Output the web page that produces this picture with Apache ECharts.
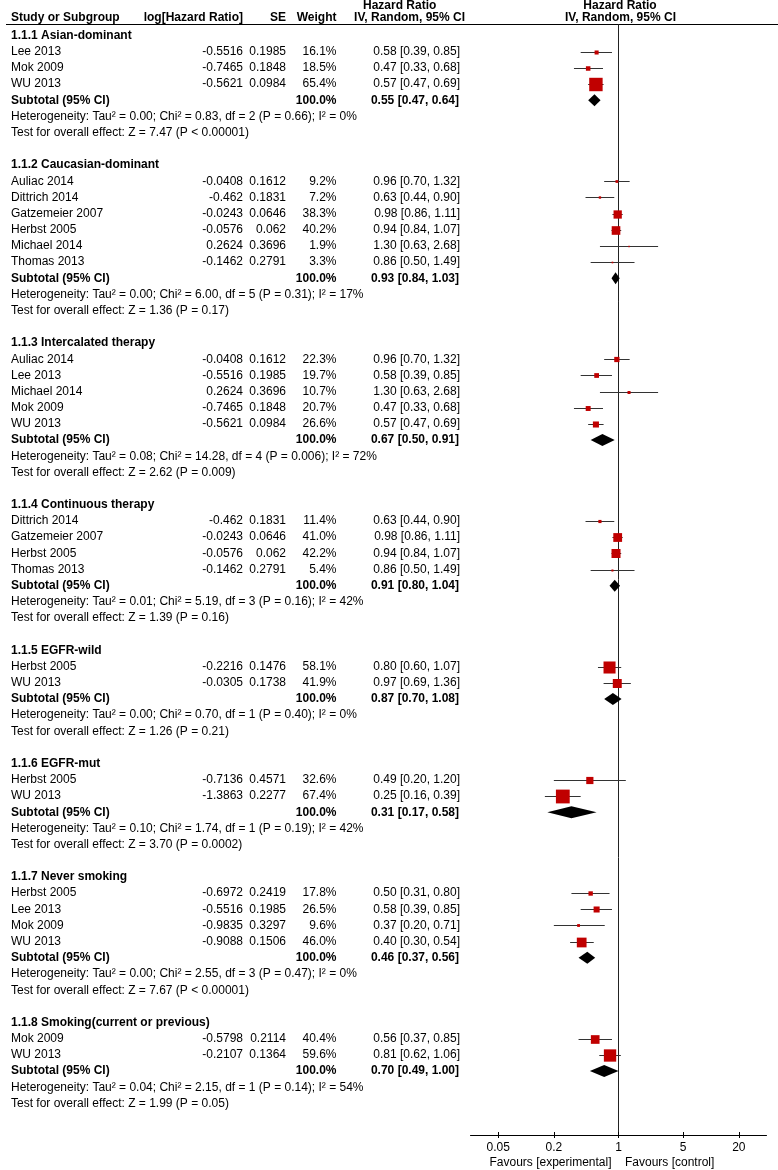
<!DOCTYPE html>
<html><head><meta charset="utf-8">
<script src="https://cdn.jsdelivr.net/npm/echarts@6/dist/echarts.min.js"></script>
<style>html,body{margin:0;padding:0;background:#fff}#c{width:778px;height:1170px}</style>
</head><body><div id="c"></div>
<script>
const groupNames = ['1.1.1 Asian-dominant','1.1.2 Caucasian-dominant','1.1.3 Intercalated therapy','1.1.4 Continuous therapy','1.1.5 EGFR-wild','1.1.6 EGFR-mut','1.1.7 Never smoking','1.1.8 Smoking(current or previous)'];
const studyGroup = [0,0,0, 1,1,1,1,1,1, 2,2,2,2,2, 3,3,3,3, 4,4, 5,5, 6,6,6,6, 7,7];
const studyNames = ['Lee 2013','Mok 2009','WU 2013', 'Auliac 2014','Dittrich 2014','Gatzemeier 2007','Herbst 2005','Michael 2014','Thomas 2013', 'Auliac 2014','Lee 2013','Michael 2014','Mok 2009','WU 2013', 'Dittrich 2014','Gatzemeier 2007','Herbst 2005','Thomas 2013', 'Herbst 2005','WU 2013', 'Herbst 2005','WU 2013', 'Herbst 2005','Lee 2013','Mok 2009','WU 2013', 'Mok 2009','WU 2013'];
const logHR = [-0.5516,-0.7465,-0.5621, -0.0408,-0.462,-0.0243,-0.0576,0.2624,-0.1462, -0.0408,-0.5516,0.2624,-0.7465,-0.5621, -0.462,-0.0243,-0.0576,-0.1462, -0.2216,-0.0305, -0.7136,-1.3863, -0.6972,-0.5516,-0.9835,-0.9088, -0.5798,-0.2107];
const seVals = [0.1985,0.1848,0.0984, 0.1612,0.1831,0.0646,0.062,0.3696,0.2791, 0.1612,0.1985,0.3696,0.1848,0.0984, 0.1831,0.0646,0.062,0.2791, 0.1476,0.1738, 0.4571,0.2277, 0.2419,0.1985,0.3297,0.1506, 0.2114,0.1364];
const weightPct = [16.1,18.5,65.4, 9.2,7.2,38.3,40.2,1.9,3.3, 22.3,19.7,10.7,20.7,26.6, 11.4,41.0,42.2,5.4, 58.1,41.9, 32.6,67.4, 17.8,26.5,9.6,46.0, 40.4,59.6];
const hrVals = [0.58,0.47,0.57, 0.96,0.63,0.98,0.94,1.30,0.86, 0.96,0.58,1.30,0.47,0.57, 0.63,0.98,0.94,0.86, 0.80,0.97, 0.49,0.25, 0.50,0.58,0.37,0.40, 0.56,0.81];
const ciLow = [0.39,0.33,0.47, 0.70,0.44,0.86,0.84,0.63,0.50, 0.70,0.39,0.63,0.33,0.47, 0.44,0.86,0.84,0.50, 0.60,0.69, 0.20,0.16, 0.31,0.39,0.20,0.30, 0.37,0.62];
const ciHigh = [0.85,0.68,0.69, 1.32,0.90,1.11,1.07,2.68,1.49, 1.32,0.85,2.68,0.68,0.69, 0.90,1.11,1.07,1.49, 1.07,1.36, 1.20,0.39, 0.80,0.85,0.71,0.54, 0.85,1.06];
const subHR = [0.55,0.93,0.67,0.91,0.87,0.31,0.46,0.70];
const subLow = [0.47,0.84,0.50,0.80,0.70,0.17,0.37,0.49];
const subHigh = [0.64,1.03,0.91,1.04,1.08,0.58,0.56,1.00];
const hetTau2 = ['0.00','0.00','0.08','0.01','0.00','0.10','0.00','0.04'];
const hetChi2 = ['0.83','6.00','14.28','5.19','0.70','1.74','2.55','2.15'];
const hetDf = [2,5,4,3,1,1,3,1];
const hetP = ['0.66','0.31','0.006','0.16','0.40','0.19','0.47','0.14'];
const hetI2 = [0,17,72,42,0,42,0,54];
const testZ = ['7.47','1.36','2.62','1.39','1.26','3.70','7.67','1.99'];
const testP = ['< 0.00001','= 0.17','= 0.009','= 0.16','= 0.21','= 0.0002','< 0.00001','= 0.05'];
const tickValues = [0.05, 0.2, 1, 5, 20];

const FONT = '"Liberation Sans", Arial, Helvetica, sans-serif';
const COL = {study: 11, logHR: 243, se: 286, weight: 336.5, hr: 460, hrBold: 459};

// Build row layout
const textRows = [], studyData = [], subData = [];
let row = 0;
groupNames.forEach((g, gi) => {
  textRows.push({r: row, items: [{x: COL.study, t: g, a: 'left', b: true}]}); row++;
  studyGroup.forEach((sg, i) => {
    if (sg !== gi) return;
    textRows.push({r: row, items: [
      {x: COL.study, t: studyNames[i], a: 'left'},
      {x: COL.logHR, t: String(logHR[i]), a: 'right'},
      {x: COL.se, t: String(seVals[i]), a: 'right'},
      {x: COL.weight, t: weightPct[i].toFixed(1) + '%', a: 'right'},
      {x: COL.hr, t: hrVals[i].toFixed(2) + ' [' + ciLow[i].toFixed(2) + ', ' + ciHigh[i].toFixed(2) + ']', a: 'right'}
    ]});
    studyData.push([Math.log10(hrVals[i]), row, Math.log10(ciLow[i]), Math.log10(ciHigh[i]), weightPct[i]]);
    row++;
  });
  textRows.push({r: row, items: [
    {x: COL.study, t: 'Subtotal (95% CI)', a: 'left', b: true},
    {x: COL.weight, t: '100.0%', a: 'right', b: true},
    {x: COL.hrBold, t: subHR[gi].toFixed(2) + ' [' + subLow[gi].toFixed(2) + ', ' + subHigh[gi].toFixed(2) + ']', a: 'right', b: true}
  ]});
  subData.push([Math.log10(subHR[gi]), row, Math.log10(subLow[gi]), Math.log10(subHigh[gi])]);
  row++;
  textRows.push({r: row, items: [{x: COL.study, a: 'left',
    t: 'Heterogeneity: Tau² = ' + hetTau2[gi] + '; Chi² = ' + hetChi2[gi] + ', df = ' + hetDf[gi] + ' (P = ' + hetP[gi] + '); I² = ' + hetI2[gi] + '%'}]});
  row++;
  textRows.push({r: row, items: [{x: COL.study, a: 'left',
    t: 'Test for overall effect: Z = ' + testZ[gi] + ' (P ' + testP[gi] + ')'}]});
  row++;
  row++; // blank
});

function txt(x, y, t, align, bold) {
  return {type: 'text', x: x, y: y, silent: true, style: {
    text: t, align: align, textAlign: align, verticalAlign: 'middle', textVerticalAlign: 'middle',
    fontSize: 12, fontFamily: FONT, fontWeight: bold ? 'bold' : 'normal', fill: '#000'}};
}

const chart = echarts.init(document.getElementById('c'), null, {renderer: 'canvas'});
const tickLog = tickValues.map(v => Math.log10(v));
const option = {
  animation: false,
  grid: {left: 470.5, right: 11.5, top: 24.5, bottom: 35, containLabel: false},
  xAxis: [{
    type: 'value', position: 'bottom', min: -1.6, max: 1.6,
    axisLine: {onZero: false, lineStyle: {color: '#000', width: 1}},
    axisTick: {show: true, length: 3, customValues: tickLog, lineStyle: {color: '#000'}},
    axisLabel: {show: true, customValues: tickLog, margin: 7, fontSize: 12, fontFamily: FONT, color: '#000',
      formatter: v => { const t = tickValues.find(k => Math.abs(Math.log10(k) - v) < 1e-6); return t === undefined ? '' : String(t); }},
    splitLine: {show: false}
  }, {
    type: 'value', position: 'bottom', min: -1.6, max: 1.6,
    axisLine: {show: false, onZero: false},
    axisTick: {show: true, inside: true, length: 3, customValues: tickLog, lineStyle: {color: '#000'}},
    axisLabel: {show: false},
    splitLine: {show: false}
  }],
  yAxis: {
    type: 'value', inverse: true, min: -0.686, max: 67.95,
    axisLine: {show: true, onZero: true, lineStyle: {color: '#222', width: 1}},
    axisTick: {show: false}, axisLabel: {show: false}, splitLine: {show: false}
  },
  series: [{
    type: 'custom', name: 'text', clip: false, silent: true,
    data: textRows.map(r => [0, r.r]),
    encode: {x: 0, y: 1},
    renderItem: (params, api) => {
      const y = api.coord([0, api.value(1)])[1];
      const rr = textRows[params.dataIndex];
      return {type: 'group', children: rr.items.map(it => txt(it.x, y, it.t, it.a, it.b))};
    }
  }, {
    type: 'custom', name: 'studies', clip: false, silent: true,
    data: studyData,
    encode: {x: [0, 2, 3], y: 1},
    renderItem: (params, api) => {
      const c = api.coord([api.value(0), api.value(1)]);
      const l = api.coord([api.value(2), api.value(1)]);
      const r = api.coord([api.value(3), api.value(1)]);
      const s = 1 + 0.19 * api.value(4);
      const ly = Math.round(c[1]) + 0.5;
      return {type: 'group', children: [
        {type: 'line', shape: {x1: l[0], y1: ly, x2: r[0], y2: ly}, style: {stroke: '#333', lineWidth: 1}},
        {type: 'rect', shape: {x: c[0] - s / 2, y: ly - s / 2, width: s, height: s}, style: {fill: '#c00000'}}
      ]};
    }
  }, {
    type: 'custom', name: 'subtotals', clip: false, silent: true,
    data: subData,
    encode: {x: [0, 2, 3], y: 1},
    renderItem: (params, api) => {
      const c = api.coord([api.value(0), api.value(1)]);
      const l = api.coord([api.value(2), api.value(1)]);
      const r = api.coord([api.value(3), api.value(1)]);
      const h = 6;
      return {type: 'polygon', shape: {points: [[l[0], c[1]], [c[0], c[1] - h], [r[0], c[1]], [c[0], c[1] + h]]},
        style: {fill: '#000'}};
    }
  }],
  graphic: [
    {type: 'line', shape: {x1: 6, y1: 24.5, x2: 778, y2: 24.5}, style: {stroke: '#000', lineWidth: 1}, silent: true},
    txt(363, 6, 'Hazard Ratio', 'left', true),
    txt(620, 6, 'Hazard Ratio', 'center', true),
    txt(COL.study, 17.5, 'Study or Subgroup', 'left', true),
    txt(COL.logHR, 17.5, 'log[Hazard Ratio]', 'right', true),
    txt(COL.se, 17.5, 'SE', 'right', true),
    txt(COL.weight, 17.5, 'Weight', 'right', true),
    txt(465, 17.5, 'IV, Random, 95% CI', 'right', true),
    txt(620.5, 17.5, 'IV, Random, 95% CI', 'center', true),
    txt(611.5, 1163, 'Favours [experimental]', 'right', false),
    txt(625, 1163, 'Favours [control]', 'left', false)
  ]
};
chart.setOption(option);
</script></body></html>
